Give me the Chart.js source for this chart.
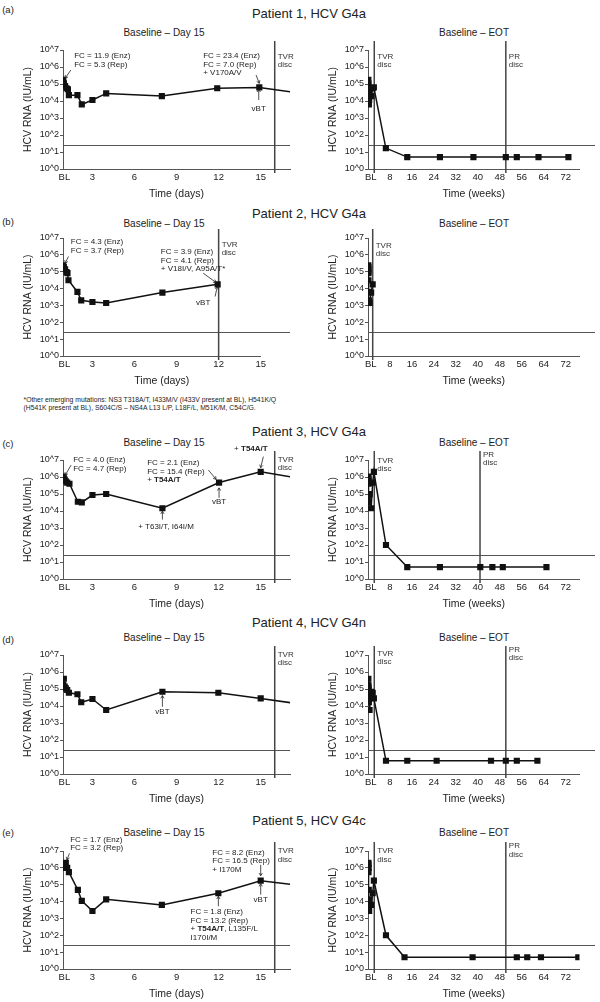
<!DOCTYPE html>
<html>
<head>
<meta charset="utf-8">
<title>HCV RNA profiles, patients 1-5</title>
<script src="https://cdn.jsdelivr.net/npm/chart.js"></script>
<style>
  body { margin: 0; background: #fff; }
  #page { position: relative; width: 600px; height: 1002px; overflow: hidden;
          font-family: "Liberation Sans", Arial, Helvetica, sans-serif; color: #222; }
  .t { position: absolute; white-space: nowrap; line-height: 1; transform: translate(-50%, -50%); }
  .l { position: absolute; white-space: nowrap; line-height: 1; transform: translateY(-50%); }
  canvas { position: absolute; }
</style>
</head>
<body>
<div id="page"></div>

<script>
// ---- data (RNA in IU/mL) ----
const LLOQ = 25;
const dayTicks = [1, 3, 6, 9, 12, 15];
const weekTicks = [1, 8, 16, 24, 32, 40, 48, 56, 64, 72];
const yTicks = [1, 10, 100, 1e3, 1e4, 1e5, 1e6, 1e7];

// patient 1: early samples in days, later ones in weeks
const p1Days  = [0.92, 0.96, 1.05, 1.15, 1.25, 1.32, 1.93, 2.24, 3.0, 3.98, 7.95, 11.9, 14.9];
const p1Early = [174000, 110000, 76000, 56000, 49000, 22000, 22000, 6300, 11500, 28000, 19500, 56000, 63000];
const p1Weeks = [6.5, 14.3, 26.2, 38.4, 50.2, 54.2, 62.1, 73];
const p1Late  = [17, 5, 5, 5, 5, 5, 5, 5];

const p2Days  = [0.92, 0.96, 1.05, 1.15, 1.22, 1.29, 1.93, 2.2, 3.0, 3.98, 7.99, 11.93];
const p2Early = [240000, 190000, 138000, 95000, 83000, 31000, 6300, 2000, 1600, 1400, 5800, 17800];
const p2Weeks = [];
const p2Late  = [];

const p3Days  = [0.92, 0.96, 1.02, 1.1, 1.2, 1.36, 1.96, 2.24, 3.0, 3.98, 7.99, 12.03, 15.0];
const p3Early = [1050000, 830000, 710000, 560000, 470000, 400000, 35000, 32000, 87000, 100000, 14500, 470000, 2000000];
const p3Weeks = [6.55, 14.3, 26.2, 40.9, 45.3, 49.1, 65];
const p3Late  = [100, 5, 5, 5, 5, 5, 5];

const p4Days  = [0.92, 0.96, 1.02, 1.1, 1.2, 1.32, 1.93, 2.2, 3.0, 3.98, 7.99, 11.98, 15.0];
const p4Early = [174000, 400000, 138000, 110000, 87000, 60000, 49000, 16600, 25700, 5800, 69000, 60000, 28000];
const p4Weeks = [6.55, 14.3, 25, 44.8, 50.2, 54.2, 61.7];
const p4Late  = [6, 6, 6, 6, 6, 6, 6];

const p5Days  = [0.92, 0.98, 1.1, 1.2, 1.32, 1.96, 2.24, 3.0, 3.98, 7.95, 11.98, 15.0];
const p5Early = [1000000, 1600000, 2000000, 1000000, 560000, 49000, 11000, 2750, 13500, 6300, 31000, 174000];
const p5Weeks = [6.55, 13.3, 38.1, 54.2, 58, 63, 76.6];
const p5Late  = [100, 5, 5, 5, 5, 5, 5];

const tvrDisc = [16, 12, 16, 16, 16];          // days
const prDisc  = [50.2, null, 40.8, 50.2, 50.2]; // weeks

const FONT = '"Liberation Sans", Arial, Helvetica, sans-serif';
Chart.defaults.font.family = FONT;
Chart.defaults.color = '#222';

// ---- panel layout and annotation text ----
const B = (s) => [['+ ', 0], [s, 1]];
const panels = [
  { tag: '(a)', tagY: 10, title: 'Patient 1, HCV G4a', titleY: 13, subY: 33, top: 50, bottom: 169,
    days: p1Days, early: p1Early, weeks: p1Weeks, late: p1Late, lRight: 290, lMax: 17.09,
    lDy: 6.7, rDy: 6.7, pDy: 6.7,
    notes: {
      texts: [
        { x: 1.7, e: 6.65, lines: ['FC = 11.9 (Enz)', 'FC = 5.3 (Rep)'] },
        { x: 10.9, e: 6.65, lines: ['FC = 23.4 (Enz)', 'FC = 7.0 (Rep)', '+ V170A/V'] },
        { x: 14.86, e: 3.57, lines: ['vBT'], center: true }
      ],
      arrows: [[1.46, 5.82, 1.05, 5.34], [14.67, 5.53, 14.9, 5.04], [14.86, 4.06, 14.86, 4.69]]
    } },
  { tag: '(b)', tagY: 222, title: 'Patient 2, HCV G4a', titleY: 213, subY: 224, top: 238, bottom: 356,
    days: p2Days, early: p2Early, weeks: p2Weeks, late: p2Late, lRight: 260.7, lMax: 15.0,
    lDy: 6.6, rDy: 7.3, pDy: 0,
    notes: {
      texts: [
        { x: 1.46, e: 6.76, lines: ['FC = 4.3 (Enz)', 'FC = 3.7 (Rep)'] },
        { x: 7.88, e: 6.18, lines: ['FC = 3.9 (Enz)', 'FC = 4.1 (Rep)', '+ V18I/V, A95A/T*'] },
        { x: 10.9, e: 3.14, lines: ['vBT'], center: true }
      ],
      arrows: [[1.29, 5.9, 1.05, 5.5], [10.9, 4.91, 11.82, 4.36], [11.75, 3.53, 11.9, 4.12]]
    } },
  { tag: '(c)', tagY: 444, title: 'Patient 3, HCV G4a', titleY: 431, subY: 442.5, top: 460, bottom: 579,
    days: p3Days, early: p3Early, weeks: p3Weeks, late: p3Late, lRight: 290, lMax: 17.09,
    lDy: -0.7, rDy: 0.7, pDy: -5.7,
    notes: {
      texts: [
        { x: 1.63, e: 7.0, lines: ['FC = 4.0 (Enz)', 'FC = 4.7 (Rep)'] },
        { x: 6.9, e: 6.82, lines: ['FC = 2.1 (Enz)', 'FC = 15.4 (Rep)', B('T54A/T')] },
        { x: 12.03, e: 4.53, lines: ['vBT'], center: true },
        { x: 8.25, e: 3.06, lines: ['+ T63I/T, I64I/M'], center: true },
        { x: 14.3, e: 7.63, lines: [B('T54A/T')], center: true }
      ],
      arrows: [[1.48, 6.7, 1.05, 6.1], [11.27, 6.41, 11.82, 5.86], [12.03, 4.77, 12.03, 5.36],
               [7.99, 3.5, 7.99, 3.99], [15.19, 7.2, 15.0, 6.55]]
    } },
  { tag: '(d)', tagY: 640, title: 'Patient 4, HCV G4n', titleY: 622, subY: 637.5, top: 655, bottom: 774,
    days: p4Days, early: p4Early, weeks: p4Weeks, late: p4Late, lRight: 290, lMax: 17.09,
    lDy: -0.7, rDy: -1.4, pDy: -5.7,
    notes: {
      texts: [{ x: 7.99, e: 3.63, lines: ['vBT'], center: true }],
      arrows: [[7.99, 3.96, 7.99, 4.61]]
    } },
  { tag: '(e)', tagY: 833, title: 'Patient 5, HCV G4c', titleY: 820, subY: 832.5, top: 851, bottom: 969,
    days: p5Days, early: p5Early, weeks: p5Weeks, late: p5Late, lRight: 290, lMax: 17.09,
    lDy: 0, rDy: 0, pDy: -5,
    notes: {
      texts: [
        { x: 1.41, e: 7.69, lines: ['FC = 1.7 (Enz)', 'FC = 3.2 (Rep)'] },
        { x: 11.55, e: 6.92, lines: ['FC = 8.2 (Enz)', 'FC = 16.5 (Rep)', '+ I170M'] },
        { x: 15, e: 4.08, lines: ['vBT'], center: true },
        { x: 10.0, e: 3.37, lines: ['FC = 1.8 (Enz)', 'FC = 13.2 (Rep)', [['+ ', 0], ['T54A/T', 1], [', L135F/L', 0]], 'I170I/M'] }
      ],
      arrows: [[1.36, 6.86, 1.18, 6.47], [15, 6.18, 15, 5.53], [15, 4.41, 15, 5.06], [11.98, 3.72, 11.98, 4.31]]
    } }
];

const page = document.getElementById('page');
function put(text, x, y, size, left) {
  const d = document.createElement('div');
  d.className = left ? 'l' : 't';
  d.textContent = text;
  d.style.left = x + 'px';
  d.style.top = y + 'px';
  d.style.fontSize = size + 'px';
  page.appendChild(d);
  return d;
}

function arrow(ctx, x1, y1, x2, y2) {
  const ang = Math.atan2(y2 - y1, x2 - x1), h = 3.2;
  ctx.beginPath();
  ctx.moveTo(x1, y1); ctx.lineTo(x2, y2);
  ctx.moveTo(x2 - h * Math.cos(ang - 0.55), y2 - h * Math.sin(ang - 0.55));
  ctx.lineTo(x2, y2);
  ctx.lineTo(x2 - h * Math.cos(ang + 0.55), y2 - h * Math.sin(ang + 0.55));
  ctx.stroke();
}

function overlay(vlines, notes) {
  return {
    id: 'overlay',
    beforeDatasetsDraw(chart) {
      const { ctx, chartArea: a, scales: { x, y } } = chart;
      ctx.save();
      ctx.strokeStyle = '#555';
      ctx.lineWidth = 1;
      const ly = Math.round(y.getPixelForValue(LLOQ)) + 0.5;
      ctx.beginPath(); ctx.moveTo(a.left, ly); ctx.lineTo(chart.width - 5, ly); ctx.stroke();

      ctx.strokeStyle = '#444';
      ctx.lineWidth = 1.5;
      ctx.fillStyle = '#333';
      ctx.font = '8px ' + FONT;
      ctx.textAlign = 'left';
      ctx.textBaseline = 'middle';
      vlines.forEach(v => {
        const px = x.getPixelForValue(v.x);
        ctx.beginPath(); ctx.moveTo(px, a.top - 9); ctx.lineTo(px, a.bottom + 4); ctx.stroke();
        ctx.fillText(v.label, px + 3, a.top + v.dy);
        ctx.fillText('disc', px + 3, a.top + v.dy + 8.5);
      });
      ctx.restore();
    },
    afterDatasetsDraw(chart) {
      if (!notes) return;
      const { ctx, scales: { x, y } } = chart;
      ctx.save();
      ctx.fillStyle = '#222';
      ctx.strokeStyle = '#222';
      ctx.lineWidth = 0.8;
      ctx.textAlign = 'left';
      ctx.textBaseline = 'middle';
      notes.texts.forEach(n => {
        const px = x.getPixelForValue(n.x), py = y.getPixelForValue(10 ** n.e);
        n.lines.forEach((ln, i) => {
          const segs = typeof ln === 'string' ? [[ln, 0]] : ln;
          let w = 0;
          segs.forEach(s => { ctx.font = (s[1] ? 'bold ' : '') + '8px ' + FONT; w += ctx.measureText(s[0]).width; });
          let cx = n.center ? px - w / 2 : px;
          segs.forEach(s => {
            ctx.font = (s[1] ? 'bold ' : '') + '8px ' + FONT;
            ctx.fillText(s[0], cx, py + i * 8.5);
            cx += ctx.measureText(s[0]).width;
          });
        });
      });
      notes.arrows.forEach(r => {
        arrow(ctx, x.getPixelForValue(r[0]), y.getPixelForValue(10 ** r[1]),
                   x.getPixelForValue(r[2]), y.getPixelForValue(10 ** r[3]));
      });
      ctx.restore();
    }
  };
}

function makeChart(cfg) {
  const c = document.createElement('canvas');
  c.width = cfg.w;
  c.height = cfg.h;
  c.style.left = cfg.left + 'px';
  c.style.top = cfg.top + 'px';
  page.appendChild(c);
  return new Chart(c, {
    type: 'line',
    data: {
      datasets: [{
        data: cfg.points,
        borderColor: '#111',
        backgroundColor: '#111',
        borderWidth: 1.5,
        pointStyle: 'rect',
        pointRadius: 3.3,
        pointHoverRadius: 3.3,
        tension: 0
      }]
    },
    options: {
      responsive: false,
      animation: false,
      devicePixelRatio: 1,
      events: [],
      layout: { padding: { top: 28, left: 0, right: cfg.padRight, bottom: 0 } },
      plugins: { legend: { display: false }, tooltip: { enabled: false } },
      scales: {
        x: {
          type: 'linear', min: cfg.xMin, max: cfg.xMax,
          afterFit: s => { s.height = 32; },
          afterBuildTicks: s => { s.ticks = cfg.xTicks.map(v => ({ value: v })); },
          grid: { display: true, drawOnChartArea: false, drawTicks: false },
          border: { color: '#555', width: 1 },
          ticks: { autoSkip: false, maxRotation: 0, padding: 3, font: { size: 9.5 }, color: '#222',
                   callback: v => v === 1 ? 'BL' : v },
          title: { display: true, text: cfg.xTitle, font: { size: 10.5 }, color: '#222',
                   padding: { top: 0, bottom: 1 } }
        },
        y: {
          type: 'logarithmic', min: 1, max: 1e7,
          afterFit: s => { s.width = cfg.yWidth; },
          afterBuildTicks: s => { s.ticks = yTicks.map(v => ({ value: v })); },
          grid: { drawOnChartArea: false, drawTicks: true, tickLength: 3, color: '#555' },
          border: { color: '#555', width: 1 },
          ticks: { padding: 1, font: { size: 9 }, color: '#222',
                   callback: v => '10^' + Math.round(Math.log10(v)) },
          title: { display: true, text: 'HCV RNA (IU/mL)', font: { size: 10.5 }, color: '#222',
                   padding: { top: cfg.yTitlePad, bottom: 0 } }
        }
      }
    },
    plugins: [overlay(cfg.vlines, cfg.notes)]
  });
}

panels.forEach((p, i) => {
  put(p.tag, 8, p.tagY, 9.5);
  put(p.title, 309, p.titleY, 13);
  put('Baseline \u2013 Day 15', 164, p.subY, 10);
  put('Baseline \u2013 EOT', 474, p.subY, 10);

  const h = (p.bottom - p.top) + 28 + 32;
  const leftPts = p.days.map((d, k) => ({ x: d, y: p.early[k] }))
    .concat(p.weeks.map((w, k) => ({ x: w * 7, y: p.late[k] })));
  const rightPts = p.days.map((d, k) => ({ x: d / 7, y: p.early[k] }))
    .concat(p.weeks.map((w, k) => ({ x: w, y: p.late[k] })));

  makeChart({
    left: 0, top: p.top - 28, w: 295, h: h,
    padRight: 295 - p.lRight, yWidth: 63, yTitlePad: 22,
    xMin: 0.9, xMax: p.lMax, xTicks: dayTicks, xTitle: 'Time (days)',
    points: leftPts,
    vlines: [{ x: tvrDisc[i], label: 'TVR', dy: p.lDy }],
    notes: p.notes
  });

  const rv = [{ x: tvrDisc[i] / 7, label: 'TVR', dy: p.rDy }];
  if (prDisc[i] !== null) rv.push({ x: prDisc[i], label: 'PR', dy: p.pDy });
  makeChart({
    left: 300, top: p.top - 28, w: 300, h: h,
    padRight: 20.6, yWidth: 68, yTitlePad: 27,
    xMin: 0, xMax: 77, xTicks: weekTicks, xTitle: 'Time (weeks)',
    points: rightPts,
    vlines: rv,
    notes: null
  });
});

put('*Other emerging mutations: NS3 T318A/T, I433M/V (I433V present at BL), H541K/Q', 23.5, 400, 6.8, true);
put('(H541K present at BL), S604C/S \u2013 NS4A L13 L/P, L18F/L, M51K/M, C54C/G.', 23.5, 408, 6.8, true);
</script>
</body>
</html>
